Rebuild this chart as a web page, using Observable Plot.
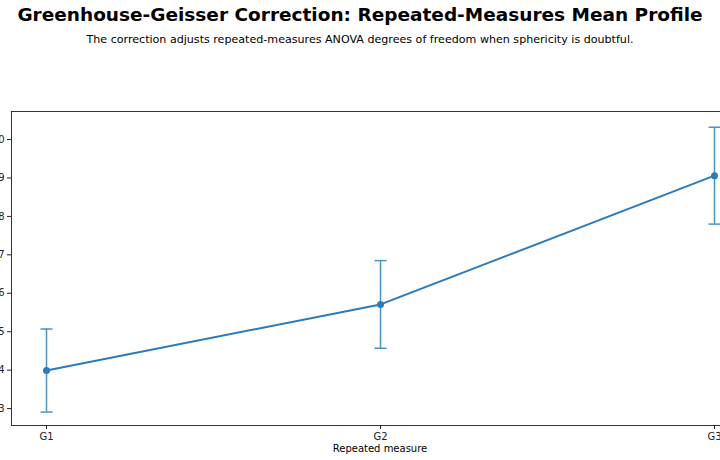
<!DOCTYPE html>
<html><head><meta charset="utf-8">
<script src="https://cdn.jsdelivr.net/npm/d3@7"></script>
<script src="https://cdn.jsdelivr.net/npm/@observablehq/plot@0.6"></script>
<style>
html,body{margin:0;padding:0;background:#fff;overflow:hidden;}
#wrap{position:relative;width:720px;height:460px;overflow:hidden;font-family:"DejaVu Sans",sans-serif;color:#000;}
#title{position:absolute;top:4px;left:0;width:720px;text-align:center;font-weight:bold;font-size:18.5px;line-height:21px;}
#sub{position:absolute;top:32.5px;left:0;width:720px;text-align:center;font-size:11.1px;line-height:14px;}
#xlabel{position:absolute;top:442.5px;left:280px;width:200px;text-align:center;font-size:10px;line-height:12px;}
#chart{position:absolute;left:-29px;top:100px;width:800px;height:360px;}
#chart svg{max-width:none !important;overflow:visible;}
</style></head>
<body>
<div id="wrap">
  <div id="title">Greenhouse-Geisser Correction: Repeated-Measures Mean Profile</div>
  <div id="sub">The correction adjusts repeated-measures ANOVA degrees of freedom when sphericity is doubtful.</div>
  <div id="chart"></div>
  <div id="xlabel">Repeated measure</div>
</div>
<script>
const groups = ["G1", "G2", "G3"];
const means = [3.99, 5.71, 9.06];
const errors = [1.08, 1.14, 1.26];
const yTicks = [3, 4, 5, 6, 7, 8, 9, 10];

const data = groups.map((g, i) => ({group: g, mean: means[i], lo: means[i] - errors[i], hi: means[i] + errors[i]}));

const capSymbol = {draw(ctx, size) { ctx.moveTo(-6, 0); ctx.lineTo(6, 0); }};
const errColor = "#4c92c3";
const lineColor = "#2b7bba";

const chart = Plot.plot({
  width: 800,
  height: 360,
  marginLeft: 40,
  marginRight: 23,
  marginTop: 11,
  marginBottom: 35,
  style: {fontFamily: "DejaVu Sans, sans-serif", fontSize: "10px", background: "#fff", overflow: "visible", maxWidth: "none"},
  x: {type: "point", domain: groups, padding: 0, inset: 34, label: null},
  y: {domain: [2.56, 10.73], label: null},
  marks: [
    Plot.frame({stroke: "#222", strokeWidth: 0.9}),
    Plot.axisY({ticks: yTicks, tickSize: 4, tickPadding: 3, label: null, stroke: "#222", fill: "#222"}),
    Plot.axisX({tickSize: 4, tickPadding: 3, label: null, stroke: "#222", fill: "#222"}),
    Plot.ruleX(data, {x: "group", y1: "lo", y2: "hi", stroke: errColor, strokeWidth: 1.5}),
    Plot.dot(data, {x: "group", y: "lo", symbol: capSymbol, stroke: errColor, strokeWidth: 1.5, fill: "none", r: 6}),
    Plot.dot(data, {x: "group", y: "hi", symbol: capSymbol, stroke: errColor, strokeWidth: 1.5, fill: "none", r: 6}),
    Plot.line(data, {x: "group", y: "mean", stroke: lineColor, strokeWidth: 2}),
    Plot.dot(data, {x: "group", y: "mean", fill: lineColor, r: 3.5})
  ]
});
chart.style.maxWidth = "none";
document.getElementById("chart").appendChild(chart);
</script>
</body></html>
